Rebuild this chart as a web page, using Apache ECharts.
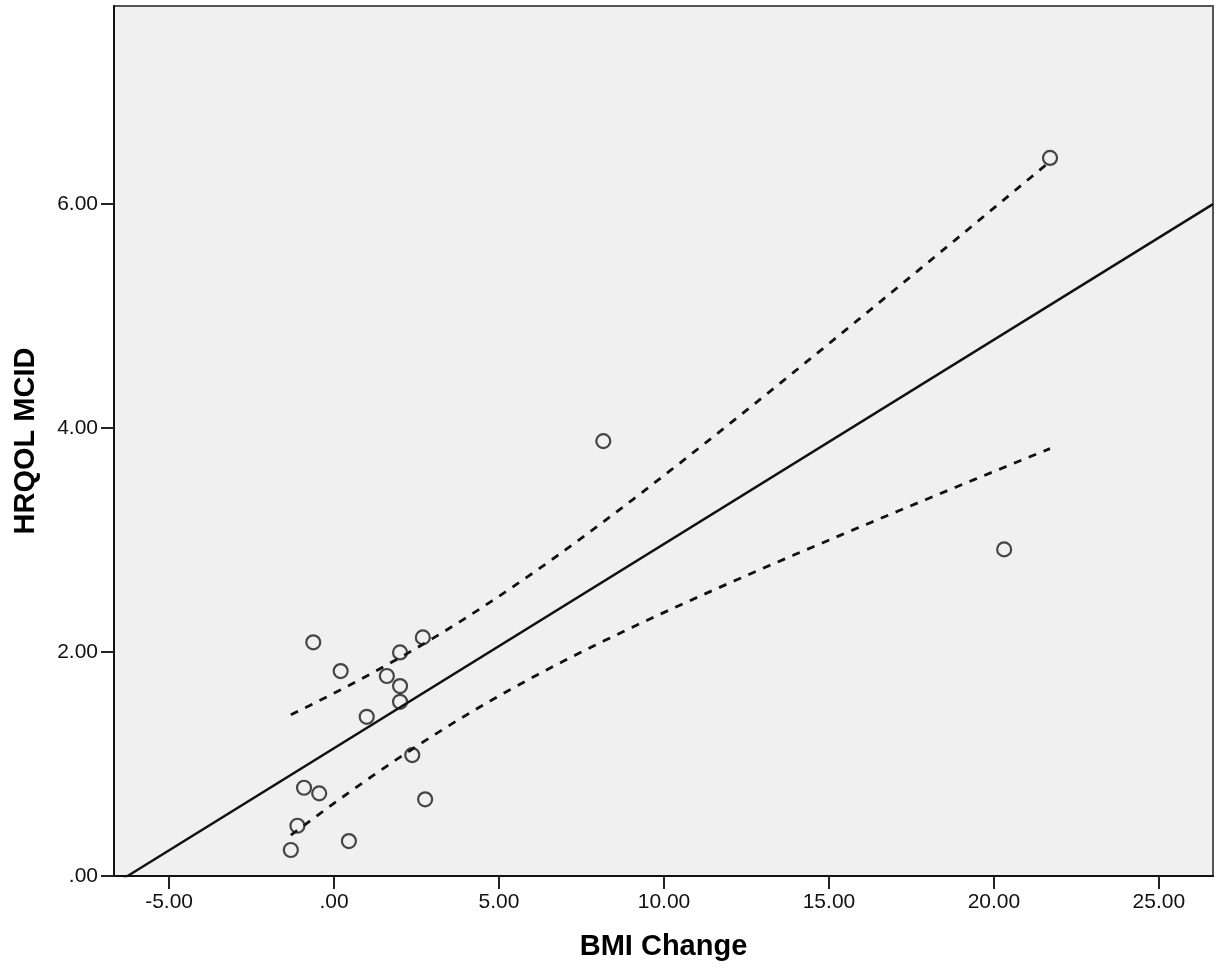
<!DOCTYPE html>
<html>
<head>
<meta charset="utf-8">
<script src="https://cdn.jsdelivr.net/npm/echarts@6/dist/echarts.min.js"></script>
<style>
html,body{margin:0;padding:0;background:#fff;}
#chart{width:1217px;height:973px;}
</style>
</head>
<body>
<div id="chart"></div>
<script>
// Data
var bmiChange = [-0.63, 0.20, 2.69, 2.00, 1.60, 2.00, 2.00, 0.99, 2.37, -0.91, -0.45, 2.76, -1.11, 0.45, -1.31, 8.16, 20.31, 21.70];
var hrqolMcid = [2.087, 1.830, 2.131, 1.997, 1.786, 1.696, 1.556, 1.422, 1.080, 0.788, 0.738, 0.685, 0.449, 0.312, 0.232, 3.884, 2.917, 6.413];
var xTicks = [-5, 0, 5, 10, 15, 20, 25];
var xTickLabels = ['-5.00', '.00', '5.00', '10.00', '15.00', '20.00', '25.00'];
var yTicks = [0, 2, 4, 6];
var yTickLabels = ['.00', '2.00', '4.00', '6.00'];
var xAxisTitle = 'BMI Change';
var yAxisTitle = 'HRQOL MCID';
var tCrit = 2.120; // t(0.975, df=16)

var X_MIN = -6.67, X_MAX = 26.64, Y_MIN = 0, Y_MAX = 7.77;

// Linear fit and 95% CI of the mean, computed from the data
var n = bmiChange.length;
var mx = 0, my = 0;
for (var i = 0; i < n; i++) { mx += bmiChange[i]; my += hrqolMcid[i]; }
mx /= n; my /= n;
var sxx = 0, sxy = 0;
for (var i = 0; i < n; i++) {
  sxx += (bmiChange[i] - mx) * (bmiChange[i] - mx);
  sxy += (bmiChange[i] - mx) * (hrqolMcid[i] - my);
}
var slope = sxy / sxx, icpt = my - slope * mx;
var sse = 0;
for (var i = 0; i < n; i++) { var r = hrqolMcid[i] - (icpt + slope * bmiChange[i]); sse += r * r; }
var s = Math.sqrt(sse / (n - 2));
var fitLine = [[X_MIN, icpt + slope * X_MIN], [X_MAX, icpt + slope * X_MAX]];
var dmin = Math.min.apply(null, bmiChange), dmax = Math.max.apply(null, bmiChange);
var upper = [], lower = [];
for (var k = 0; k <= 80; k++) {
  var x = dmin + (dmax - dmin) * k / 80;
  var yh = icpt + slope * x;
  var hw = tCrit * s * Math.sqrt(1 / n + (x - mx) * (x - mx) / sxx);
  upper.push([x, yh + hw]);
  lower.push([x, yh - hw]);
}
var points = bmiChange.map(function (v, i) { return [v, hrqolMcid[i]]; });

function lab(ticks, labels) {
  return function (v) {
    for (var i = 0; i < ticks.length; i++) if (Math.abs(ticks[i] - v) < 1e-6) return labels[i];
    return '';
  };
}

var FONT = "'Liberation Sans', Arial, sans-serif";
var chart = echarts.init(document.getElementById('chart'), null, {renderer: 'canvas'});
chart.setOption({
  animation: false,
  backgroundColor: '#ffffff',
  grid: {
    left: 114, right: 4, top: 6, bottom: 97,
    show: true, backgroundColor: '#F0F0F0', borderColor: '#555', borderWidth: 2
  },
  xAxis: {
    type: 'value', min: X_MIN, max: X_MAX,
    name: xAxisTitle, nameLocation: 'middle', nameGap: 56,
    nameTextStyle: {fontFamily: FONT, fontSize: 29, fontWeight: 'bold', color: '#000'},
    axisLine: {show: true, onZero: false, lineStyle: {color: '#111', width: 2}},
    axisTick: {show: true, length: 13, customValues: xTicks, lineStyle: {color: '#222', width: 2}},
    axisLabel: {customValues: xTicks, formatter: lab(xTicks, xTickLabels), margin: 16,
      fontFamily: FONT, fontSize: 21, color: '#111'},
    splitLine: {show: false}
  },
  yAxis: {
    type: 'value', min: Y_MIN, max: Y_MAX,
    name: yAxisTitle, nameLocation: 'middle', nameGap: 74,
    nameTextStyle: {fontFamily: FONT, fontSize: 29, fontWeight: 'bold', color: '#000'},
    axisLine: {show: true, onZero: false, lineStyle: {color: '#111', width: 2}},
    axisTick: {show: true, length: 13, customValues: yTicks, lineStyle: {color: '#222', width: 2}},
    axisLabel: {customValues: yTicks, formatter: lab(yTicks, yTickLabels), margin: 16,
      fontFamily: FONT, fontSize: 21, color: '#111'},
    splitLine: {show: false}
  },
  series: [
    {
      type: 'line', data: fitLine, symbol: 'none', clip: true, z: 3,
      lineStyle: {color: '#111', width: 2.4}
    },
    {
      type: 'line', data: upper, symbol: 'none', smooth: false, z: 3,
      lineStyle: {color: '#111', width: 2.8, type: [8, 8]}
    },
    {
      type: 'line', data: lower, symbol: 'none', smooth: false, z: 3,
      lineStyle: {color: '#111', width: 2.8, type: [8, 8]}
    },
    {
      type: 'scatter', data: points, symbol: 'circle', symbolSize: 14, z: 4,
      itemStyle: {color: 'rgba(0,0,0,0)', borderColor: '#1a1a1a', borderWidth: 2.2}
    }
  ]
});
</script>
</body>
</html>
